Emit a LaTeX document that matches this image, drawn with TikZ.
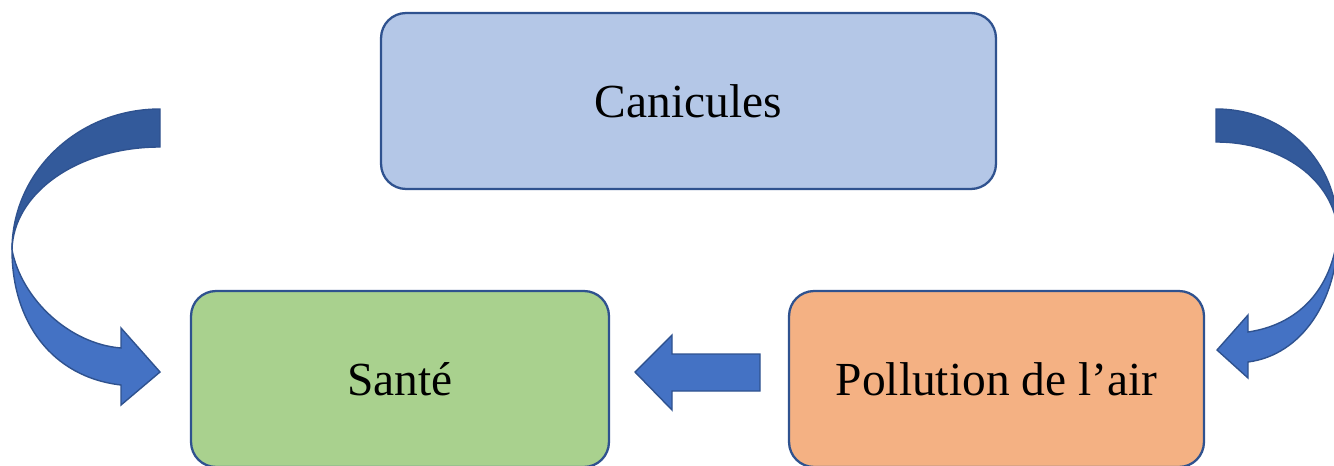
\documentclass[tikz,border=0pt]{standalone}
\usepackage{fontspec}
\setmainfont{Liberation Serif}
\definecolor{bordc}{HTML}{2F528F}
\definecolor{bluef}{HTML}{B4C7E7}
\definecolor{greenf}{HTML}{A9D18E}
\definecolor{orangef}{HTML}{F4B183}
\definecolor{arrlight}{HTML}{4472C4}
\definecolor{arrdark}{HTML}{335A9B}
\begin{document}
\begin{tikzpicture}[x=0.02cm,y=-0.02cm,
  boxst/.style={draw=bordc,line width=1.3pt,rounded corners=0.5cm,
    minimum height=3.52cm,inner sep=0pt,font=\fontsize{27}{32}\selectfont,text=black},
  arrst/.style={draw=bordc,line width=0.8pt,line join=miter}]
\useasboundingbox (0,0) rectangle (1334,466);
\node[boxst,fill=bluef,minimum width=12.3cm] (can) at (688.5,101) {Canicules};
\node[boxst,fill=greenf,minimum width=8.36cm] (sante) at (400,379) {Santé};
\node[boxst,fill=orangef,minimum width=8.3cm] (poll) at (996.5,379) {Pollution de l’air};
% straight arrow
\fill[arrlight,arrst] (760,354) -- (672,354) -- (672,335) -- (635,372) -- (672,410) -- (672,391) -- (760,391) -- cycle;
% left curved arrow
\fill[arrdark,arrst] (160,109) .. controls (78,109) and (12,172) .. (12,250)
  .. controls (13,193) and (78,147) .. (160,147) -- cycle;
\fill[arrlight,arrst] (12,250) .. controls (12,322) and (52,377) .. (121,385)
  -- (121,405) -- (160,372) -- (121,328) -- (121,348)
  .. controls (70,344) and (22,300) .. (12,250) -- cycle;
% right curved arrow
\fill[arrdark,arrst] (1216,109) .. controls (1284,109) and (1338,160) .. (1338,232)
  .. controls (1334,180) and (1282,142) .. (1216,142) -- cycle;
\fill[arrlight,arrst] (1338,232) .. controls (1338,300) and (1302,355) .. (1248,362)
  -- (1248,378) -- (1217,350) -- (1248,315) -- (1248,332)
  .. controls (1296,325) and (1332,292) .. (1338,232) -- cycle;
\end{tikzpicture}
\end{document}
